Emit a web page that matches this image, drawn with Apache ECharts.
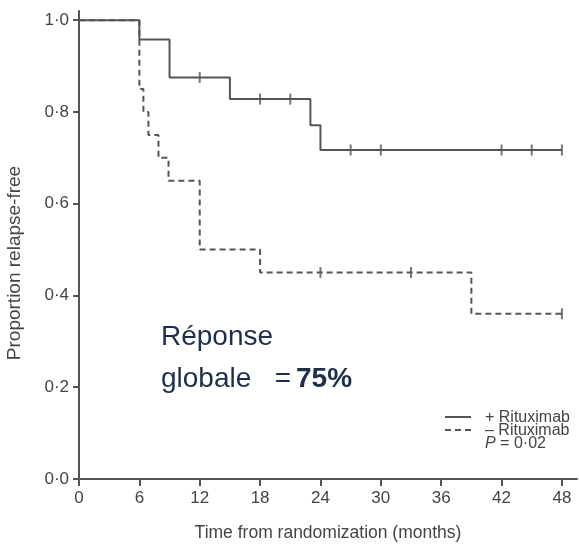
<!DOCTYPE html>
<html>
<head>
<meta charset="utf-8">
<script src="https://cdn.jsdelivr.net/npm/echarts@6/dist/echarts.min.js"></script>
<style>
  html, body { margin: 0; padding: 0; background: #fff; }
  #main { width: 579px; height: 546px; }
</style>
</head>
<body>
<div id="main"></div>
<script>
// Kaplan-Meier steps (time in months, proportion relapse-free after the event)
var plusTimes = [0, 6, 9, 15, 23, 24, 48];
var plusSurv = [1, 0.958, 0.875, 0.828, 0.771, 0.717, 0.717];
var minusTimes = [0, 6, 6.4, 6.9, 7.9, 8.9, 12, 18, 39, 48];
var minusSurv = [1, 0.85, 0.80, 0.75, 0.70, 0.65, 0.50, 0.45, 0.36, 0.36];
// censored patients (tick marks)
var plusCensor = [12, 18, 21, 27, 30, 42, 45, 48];
var minusCensor = [24, 33, 48];
// axis ticks
var xTicks = [0, 6, 12, 18, 24, 30, 36, 42, 48];
var yTicks = [0, 0.2, 0.4, 0.6, 0.8, 1.0];

var lineColor = '#555';
var font = 'Liberation Sans, Arial, Helvetica, sans-serif';

function pairs(xs, ys) {
  return xs.map(function (x, i) { return [x, ys[i]]; });
}
// survival value of the step curve at time t
function survAt(times, surv, t) {
  var v = surv[0];
  for (var i = 0; i < times.length; i++) {
    if (times[i] <= t) v = surv[i];
  }
  return v;
}
function censorPts(times, surv, cens) {
  return cens.map(function (t) { return [t, survAt(times, surv, t)]; });
}

var myChart = echarts.init(document.getElementById('main'));

var option = {
  backgroundColor: '#fff',
  animation: false,
  grid: { left: 79, right: 2, top: 11, bottom: 67, outerBoundsMode: 'none' },
  xAxis: {
    type: 'value',
    min: 0,
    max: 49.5,
    splitLine: { show: false },
    axisLine: { lineStyle: { color: lineColor, width: 2 } },
    axisTick: { customValues: xTicks, length: 7, lineStyle: { color: lineColor, width: 2 } },
    axisLabel: {
      customValues: xTicks,
      margin: 11,
      fontFamily: font, fontSize: 17, color: '#444'
    },
    name: 'Time from randomization (months)',
    nameLocation: 'middle',
    nameGap: 45,
    nameTextStyle: { fontFamily: font, fontSize: 17.5, color: '#444' }
  },
  yAxis: {
    type: 'value',
    min: 0,
    max: 1.02,
    splitLine: { show: false },
    axisLine: { show: true, lineStyle: { color: lineColor, width: 2 } },
    axisTick: { show: true, customValues: yTicks, length: 6, lineStyle: { color: lineColor, width: 2 } },
    axisLabel: {
      customValues: yTicks,
      margin: 10,
      fontFamily: font, fontSize: 17, color: '#444',
      formatter: function (v) { return v.toFixed(1).replace('.', '·'); }
    },
    name: 'Proportion relapse-free',
    nameLocation: 'middle',
    nameGap: 55,
    nameTextStyle: { fontFamily: font, fontSize: 19, color: '#444', padding: [0, 36, 0, 0] }
  },
  graphic: [
    {
      type: 'text',
      left: 161,
      top: 323,
      style: {
        text: '{a|Réponse}\n{a|globale   =}{b|75%}',
        fill: '#1e2f4d',
        rich: {
          a: { fontFamily: font, fontSize: 28, lineHeight: 42, fill: '#1e2f4d' },
          b: { fontFamily: font, fontSize: 28, lineHeight: 42, fontWeight: 'bold', fill: '#1e2f4d', padding: [0, 0, 0, 5] }
        }
      }
    },
    // legend
    {
      type: 'line',
      shape: { x1: 445, y1: 417, x2: 471, y2: 417 },
      style: { stroke: lineColor, lineWidth: 2 }
    },
    {
      type: 'line',
      shape: { x1: 445, y1: 430, x2: 471, y2: 430 },
      style: { stroke: lineColor, lineWidth: 2, lineDash: [6, 4] }
    },
    {
      type: 'text',
      left: 485,
      top: 410,
      style: {
        text: '+ Rituximab\n– Rituximab\n{i|P} = 0·02',
        fill: '#444',
        font: '16px ' + font,
        lineHeight: 13,
        rich: { i: { fontStyle: 'italic', fontFamily: font, fontSize: 16, lineHeight: 13, fill: '#444' } }
      }
    }
  ],
  series: [
    {
      name: '+ Rituximab',
      type: 'line',
      step: 'end',
      symbol: 'none',
      data: pairs(plusTimes, plusSurv),
      lineStyle: { color: lineColor, width: 2 }
    },
    {
      name: '– Rituximab',
      type: 'line',
      step: 'end',
      symbol: 'none',
      data: pairs(minusTimes, minusSurv),
      lineStyle: { color: lineColor, width: 2, type: [6, 4] }
    },
    {
      name: 'plusCensor',
      type: 'scatter',
      symbol: 'rect',
      symbolSize: [2, 11],
      data: censorPts(plusTimes, plusSurv, plusCensor),
      itemStyle: { color: lineColor },
      z: 5
    },
    {
      name: 'minusCensor',
      type: 'scatter',
      symbol: 'rect',
      symbolSize: [2, 11],
      data: censorPts(minusTimes, minusSurv, minusCensor),
      itemStyle: { color: lineColor },
      z: 5
    }
  ]
};

myChart.setOption(option);
</script>
</body>
</html>
